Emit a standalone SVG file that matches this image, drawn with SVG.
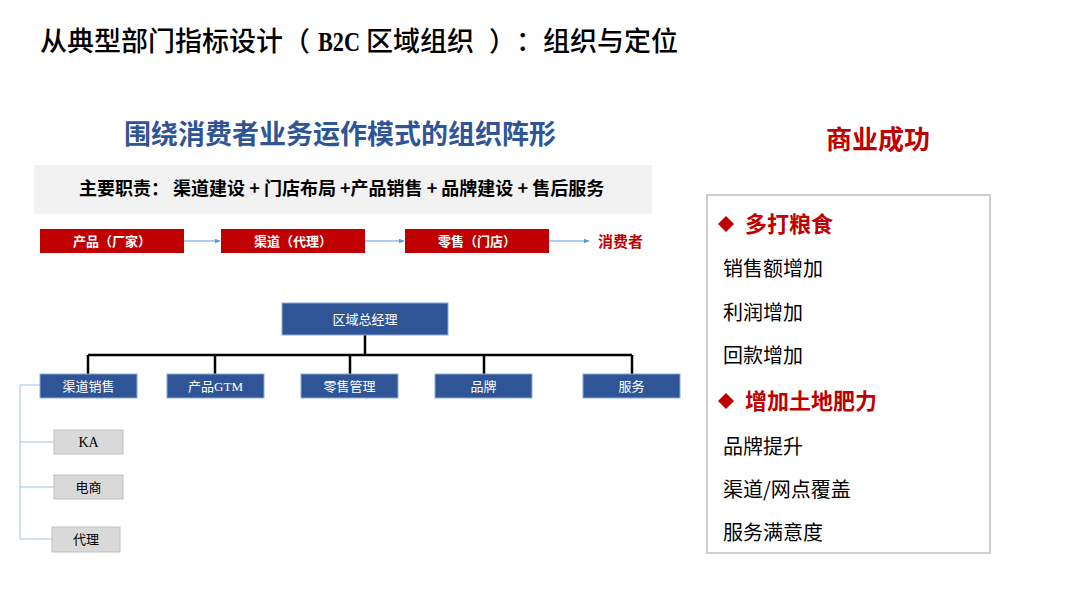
<svg xmlns="http://www.w3.org/2000/svg" width="1080" height="608" viewBox="0 0 1080 608">
<style>
.cjk{font-family:"Noto Sans CJK SC","Liberation Sans",sans-serif}
.title{font-size:27px;font-weight:500;fill:#000}
.sub{font-size:27px;font-weight:bold;fill:#2F5597}
.duty{font-size:18px;font-weight:bold;fill:#000}
.redbox{fill:#C00000}
.redtxt{font-size:13px;font-weight:bold;fill:#fff}
.bluebox{fill:#2F5597;stroke:#8FAADC;stroke-width:1}
.bluetxt{font-size:13px;fill:#fff}
.graybox{fill:#D9D9D9;stroke:#BFBFBF;stroke-width:1}
.graytxt{font-size:13px;fill:#000}
.item{font-size:20px;fill:#000}
.head{font-size:22px;font-weight:bold;fill:#C00000}
</style>
<defs>
<marker id="arr" viewBox="0 0 10 10" refX="9" refY="5" markerWidth="6" markerHeight="6" orient="auto">
<path d="M0,1 L10,5 L0,9 z" fill="#5B9BD5"/>
</marker>
</defs>
<rect width="1080" height="608" fill="#fff"/>
<text class="cjk title" y="51"><tspan x="40">从典型部门指标设计（</tspan><tspan x="318" font-family="Liberation Serif" font-weight="bold" font-size="28" textLength="42" lengthAdjust="spacingAndGlyphs">B2C</tspan><tspan x="366">区域组织</tspan><tspan x="489">）</tspan><tspan x="516">：组织与定位</tspan></text>
<text class="cjk sub" x="340" y="144" text-anchor="middle">围绕消费者业务运作模式的组织阵形</text>
<g id="duty">
<rect x="34" y="165" width="618" height="49" fill="#F2F2F2"/>
<text class="cjk duty" x="79" y="195" xml:space="preserve">主要职责： 渠道建设 + 门店布局 +产品销售 + 品牌建设 + 售后服务</text>
</g>
<g id="connectors">
<g stroke="#5B9BD5" stroke-width="1" fill="none">
<line x1="184" y1="241" x2="220" y2="241" marker-end="url(#arr)"/>
<line x1="365" y1="241" x2="404" y2="241" marker-end="url(#arr)"/>
<line x1="549" y1="241" x2="589" y2="241" marker-end="url(#arr)"/>
</g>
<g stroke="#000" stroke-width="2.5" fill="none">
<line x1="365" y1="335" x2="365" y2="355"/>
<line x1="88" y1="355" x2="632" y2="355"/>
<line x1="88" y1="355" x2="88" y2="374"/>
<line x1="215" y1="355" x2="215" y2="374"/>
<line x1="350" y1="355" x2="350" y2="374"/>
<line x1="484" y1="355" x2="484" y2="374"/>
<line x1="632" y1="355" x2="632" y2="374"/>
</g>
<g stroke="#9DC3E6" stroke-width="1" fill="none">
<polyline points="40,385 20,385 20,539 52,539"/>
<line x1="20" y1="442" x2="54" y2="442"/>
<line x1="20" y1="487" x2="54" y2="487"/>
</g>
</g>
<g id="n-product"><rect class="redbox" x="40" y="229" width="144" height="24"/><text class="cjk redtxt" x="112" y="245.5" text-anchor="middle">产品（厂家）</text></g>
<g id="n-channel"><rect class="redbox" x="221" y="229" width="144" height="24"/><text class="cjk redtxt" x="293" y="245.5" text-anchor="middle">渠道（代理）</text></g>
<g id="n-retail"><rect class="redbox" x="405" y="229" width="144" height="24"/><text class="cjk redtxt" x="477" y="245.5" text-anchor="middle">零售（门店）</text></g>
<g id="n-consumer"><text class="cjk" x="598" y="246.5" font-size="15" font-weight="bold" fill="#C00000">消费者</text></g>
<g id="n-gm"><rect class="bluebox" x="282" y="303" width="166" height="32"/><text class="cjk bluetxt" x="365" y="324" text-anchor="middle">区域总经理</text></g>
<g id="n-qdxs"><rect class="bluebox" x="40" y="374" width="97" height="24"/><text class="cjk bluetxt" x="88.5" y="390.5" text-anchor="middle">渠道销售</text></g>
<g id="n-gtm"><rect class="bluebox" x="167" y="374" width="97" height="24"/><text class="cjk bluetxt" x="215.5" y="390.5" text-anchor="middle">产品<tspan font-family="Liberation Serif">GTM</tspan></text></g>
<g id="n-lsgl"><rect class="bluebox" x="301" y="374" width="97" height="24"/><text class="cjk bluetxt" x="349.5" y="390.5" text-anchor="middle">零售管理</text></g>
<g id="n-pp"><rect class="bluebox" x="435" y="374" width="97" height="24"/><text class="cjk bluetxt" x="483.5" y="390.5" text-anchor="middle">品牌</text></g>
<g id="n-fw"><rect class="bluebox" x="583" y="374" width="97" height="24"/><text class="cjk bluetxt" x="631.5" y="390.5" text-anchor="middle">服务</text></g>
<g id="n-ka"><rect class="graybox" x="54" y="430" width="69" height="24"/><text x="88.5" y="447" text-anchor="middle" font-family="Liberation Serif" font-size="14" fill="#000">KA</text></g>
<g id="n-ds"><rect class="graybox" x="54" y="475" width="69" height="24"/><text class="cjk graytxt" x="88.5" y="491.5" text-anchor="middle">电商</text></g>
<g id="n-dl"><rect class="graybox" x="52" y="527" width="68" height="25"/><text class="cjk graytxt" x="86" y="544" text-anchor="middle">代理</text></g>
<g id="n-success">
<text class="cjk" x="878" y="149" text-anchor="middle" font-size="26" font-weight="bold" fill="#C00000">商业成功</text>
<rect x="707" y="195" width="283" height="358" fill="#fff" stroke="#BFBFBF" stroke-width="1.5"/>
<path d="M726,216 L734,224 L726,232 L718,224 z" fill="#C00000"/>
<text class="cjk head" x="745" y="232">多打粮食</text>
<text class="cjk item" x="723" y="276">销售额增加</text>
<text class="cjk item" x="723" y="320">利润增加</text>
<text class="cjk item" x="723" y="363">回款增加</text>
<path d="M726,393 L734,401 L726,409 L718,401 z" fill="#C00000"/>
<text class="cjk head" x="745" y="409">增加土地肥力</text>
<text class="cjk item" x="723" y="454">品牌提升</text>
<text class="cjk item" x="723" y="497">渠道/网点覆盖</text>
<text class="cjk item" x="723" y="540">服务满意度</text>
</g>
</svg>
